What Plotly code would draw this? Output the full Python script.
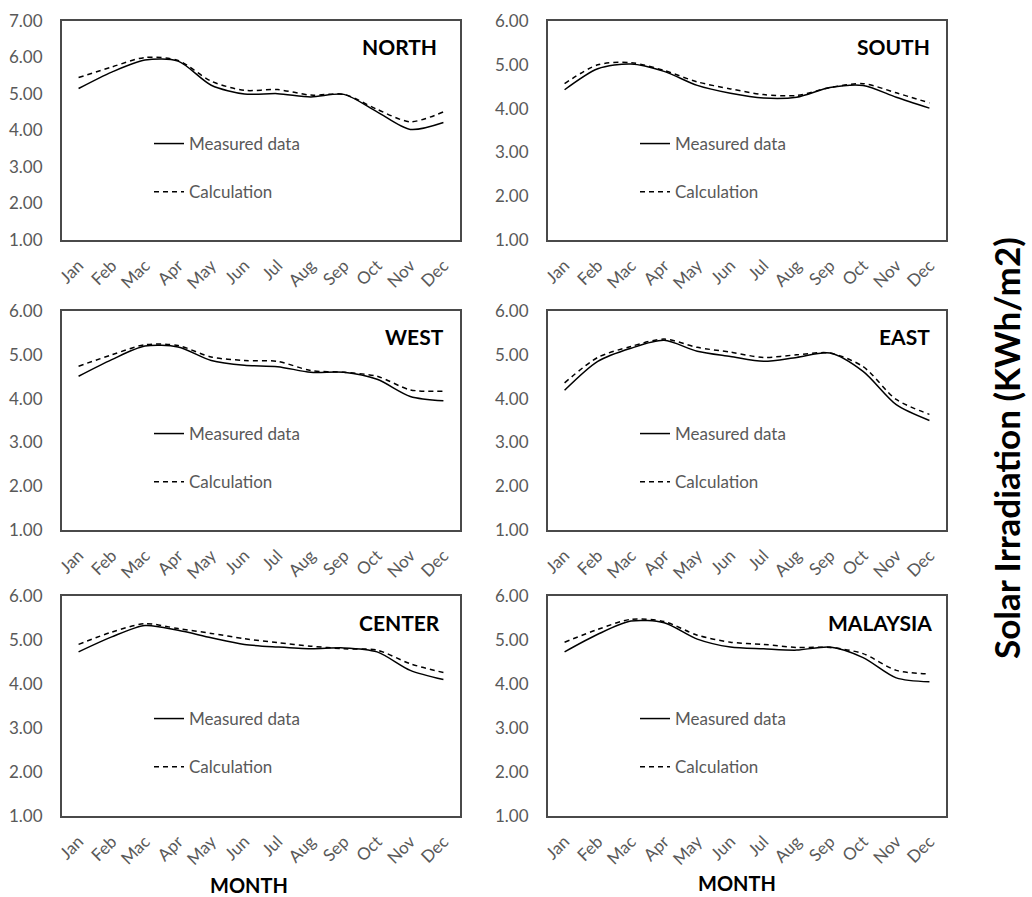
import plotly.graph_objects as go

months = ["Jan", "Feb", "Mac", "Apr", "May", "Jun", "Jul", "Aug", "Sep", "Oct", "Nov", "Dec"]
regions = ["NORTH", "SOUTH", "WEST", "EAST", "CENTER", "MALAYSIA"]

north_measured = [5.15, 5.60, 5.93, 5.90, 5.24, 5.00, 5.01, 4.92, 4.99, 4.51, 4.03, 4.22]
north_calc = [5.45, 5.74, 6.00, 5.92, 5.35, 5.10, 5.12, 4.97, 4.99, 4.58, 4.24, 4.51]
south_measured = [4.43, 4.91, 5.02, 4.85, 4.53, 4.35, 4.24, 4.26, 4.48, 4.53, 4.26, 4.01]
south_calc = [4.57, 5.00, 5.05, 4.87, 4.61, 4.45, 4.32, 4.30, 4.48, 4.57, 4.36, 4.13]
west_measured = [4.51, 4.89, 5.20, 5.18, 4.87, 4.76, 4.73, 4.60, 4.60, 4.44, 4.05, 3.95]
west_calc = [4.74, 5.00, 5.23, 5.21, 4.95, 4.87, 4.85, 4.64, 4.60, 4.51, 4.20, 4.17]
east_measured = [4.19, 4.85, 5.15, 5.33, 5.08, 4.96, 4.85, 4.94, 5.04, 4.62, 3.86, 3.50]
east_calc = [4.36, 4.94, 5.19, 5.36, 5.17, 5.06, 4.94, 5.00, 5.04, 4.73, 3.98, 3.64]
center_measured = [4.73, 5.07, 5.33, 5.22, 5.05, 4.90, 4.84, 4.80, 4.82, 4.73, 4.31, 4.10]
center_calc = [4.90, 5.18, 5.37, 5.26, 5.15, 5.03, 4.94, 4.86, 4.80, 4.77, 4.46, 4.26]
malaysia_measured = [4.73, 5.13, 5.43, 5.39, 5.02, 4.84, 4.80, 4.77, 4.84, 4.60, 4.14, 4.05]
malaysia_calc = [4.95, 5.24, 5.47, 5.42, 5.11, 4.95, 4.90, 4.83, 4.83, 4.69, 4.31, 4.23]

measured = [north_measured, south_measured, west_measured, east_measured, center_measured, malaysia_measured]
calc = [north_calc, south_calc, west_calc, east_calc, center_calc, malaysia_calc]
y_max = [7, 6, 6, 6, 6, 6]

W, H = 1032, 897
col_px = [(62, 460), (548, 946)]
row_px = [(21, 240), (311, 530), (596, 816)]
title_shift = [-21, -14, -14, -14, -18, -12]

FONT = "Lato"
GRAY = "#595959"

fig = go.Figure()
layout = {}
annotations = []

for i, name in enumerate(regions):
    r, c = divmod(i, 2)
    n = "" if i == 0 else str(i + 1)
    xa, ya = "x" + n, "y" + n
    leg = "legend" + n
    x0, x1 = col_px[c]
    t, b = row_px[r]
    fig.add_trace(go.Scatter(
        x=months, y=measured[i], mode="lines", name="Measured data",
        line=dict(color="black", width=1.5, shape="spline", smoothing=0.8),
        xaxis=xa, yaxis=ya, legend=leg, legendgroup=f"m{i}", hoverinfo="skip"))
    fig.add_trace(go.Scatter(
        x=months, y=calc[i], mode="lines", name="Calculation",
        line=dict(color="black", width=1.5, dash="5px,4px", shape="spline", smoothing=0.8),
        xaxis=xa, yaxis=ya, legend=leg, legendgroup=f"c{i}", hoverinfo="skip"))
    layout["xaxis" + n] = dict(
        domain=[x0 / W, x1 / W], anchor=ya, type="category", automargin=False,
        categoryorder="array", categoryarray=months, range=[-0.5, 11.5],
        showline=True, mirror=True, linecolor="#4a4a4a", linewidth=2,
        showgrid=False, zeroline=False, ticks="", tickangle=-45,
        tickfont=dict(family=FONT, size=17, color=GRAY), ticklabelstandoff=7)
    layout["yaxis" + n] = dict(
        domain=[1 - b / H, 1 - t / H], anchor=xa, range=[1, y_max[i]], dtick=1,
        automargin=False, tickformat=".2f", showline=True, mirror=True,
        linecolor="#4a4a4a", linewidth=2, showgrid=False, zeroline=False, ticks="",
        tickfont=dict(family=FONT, size=17, color=GRAY), ticklabelstandoff=14)
    layout[leg] = dict(
        x=(x0 + 87) / W, y=1 - (t + 105) / H, xanchor="left", yanchor="top",
        bgcolor="rgba(0,0,0,0)", borderwidth=0, tracegroupgap=23,
        font=dict(family=FONT, size=17, color=GRAY), itemwidth=30)
    annotations.append(dict(
        text=f"<b>{name}</b>", xref=xa + " domain", yref=ya + " domain",
        x=1, y=1, xanchor="right", yanchor="middle", xshift=title_shift[i], yshift=-26,
        showarrow=False, font=dict(family=FONT, size=21, color="black")))

annotations.append(dict(
    text="<b>MONTH</b>", xref="paper", yref="paper", x=249 / W, y=1 - 885 / H,
    xanchor="center", yanchor="middle", showarrow=False,
    font=dict(family=FONT, size=20, color="black")))
annotations.append(dict(
    text="<b>MONTH</b>", xref="paper", yref="paper", x=737 / W, y=1 - 883 / H,
    xanchor="center", yanchor="middle", showarrow=False,
    font=dict(family=FONT, size=20, color="black")))
annotations.append(dict(
    text="<b>Solar Irradiation (KWh/m2)</b>", xref="paper", yref="paper",
    x=1006 / W, y=1 - 448 / H, xanchor="center", yanchor="middle", textangle=-90,
    showarrow=False, font=dict(family=FONT, size=35, color="black")))

fig.update_layout(
    width=W, height=H, margin=dict(l=0, r=0, t=0, b=0),
    paper_bgcolor="white", plot_bgcolor="white", showlegend=True,
    annotations=annotations, **layout)

fig.write_html("out.html", config={"displayModeBar": False},
               post_script="document.body.style.margin='0px';")
